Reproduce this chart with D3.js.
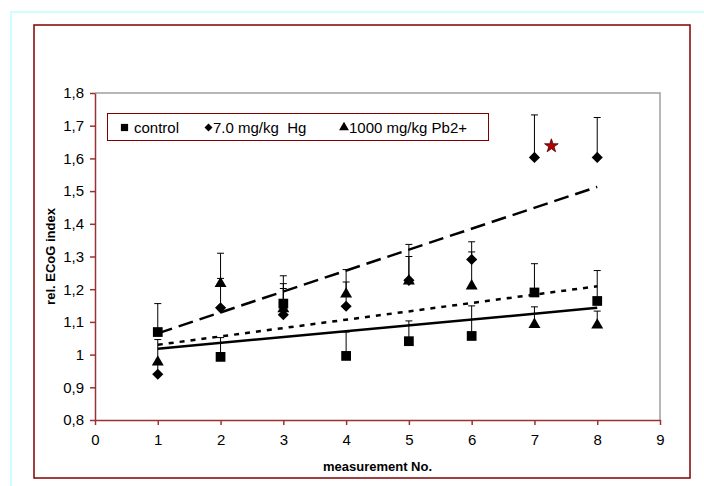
<!DOCTYPE html>
<html>
<head>
<meta charset="utf-8">
<script src="https://cdn.jsdelivr.net/npm/d3@7"></script>
<style>
html,body{margin:0;padding:0;background:#fff;}
svg{display:block;}
text{font-family:"Liberation Sans",Arial,sans-serif;}
</style>
</head>
<body>
<svg id="chart" width="704" height="486"></svg>
<script>
// ---- data ----
const measurements = [1, 2, 3, 4, 5, 6, 7, 8];
const controlMean   = [1.069, 0.993, 1.156, 0.996, 1.041, 1.057, 1.190, 1.164];
const controlErrTop = [1.156, 1.052, 1.217, 1.069, 1.103, 1.149, 1.278, 1.257];
const hgMean        = [0.940, 1.143, 1.122, 1.148, 1.227, 1.291, 1.603, 1.603];
const hgErrTop      = [0.975, 1.233, 1.202, 1.260, 1.337, 1.314, 1.733, 1.725];
const pbMean        = [0.977, 1.217, 1.140, 1.185, 1.225, 1.210, 1.092, 1.090];
const pbErrTop      = [1.046, 1.310, 1.241, 1.222, 1.300, 1.345, 1.146, 1.133];
// trend lines (value at first and last measurement)
const trendX       = [1, 8];
const trendControl = [1.018, 1.143];
const trendPb      = [1.030, 1.209];
const trendHg      = [1.065, 1.513];
// significance star
const starX = [7.27];
const starY = [1.638];
// axes
const xTicks = [0, 1, 2, 3, 4, 5, 6, 7, 8, 9];
const yTicks = [0.8, 0.9, 1.0, 1.1, 1.2, 1.3, 1.4, 1.5, 1.6, 1.7, 1.8];
const legendLabels = ["control", "7.0 mg/kg  Hg", "1000 mg/kg Pb2+"];
const xTitle = "measurement No.";
const yTitle = "rel. ECoG index";

// ---- layout ----
const svg = d3.select("#chart");
const plot = {left: 95, right: 660, top: 93, bottom: 420};
const axisColor = "#993333";

svg.append("rect").attr("x", 11).attr("y", 12).attr("width", 720).attr("height", 500)
  .attr("fill", "none").attr("stroke", "#ccffff").attr("stroke-width", 2);
svg.append("rect").attr("x", 34).attr("y", 25).attr("width", 656).attr("height", 453)
  .attr("fill", "#fff").attr("stroke", "#800000").attr("stroke-width", 1.5);

const x = d3.scaleLinear().domain([0, 9]).range([plot.left, plot.right]);
const y = d3.scaleLinear().domain([0.8, 1.8]).range([plot.bottom, plot.top]);

// plot-area frame (top/right gray)
svg.append("path")
  .attr("d", `M${plot.left},${plot.top}H${plot.right}V${plot.bottom}`)
  .attr("fill", "none").attr("stroke", "#a0a0a0").attr("stroke-width", 1.5);

const fmt = d => d3.format(".1f")(d).replace(".", ",").replace(/,0$/, "");
const yAxis = svg.append("g").attr("transform", `translate(${plot.left},0)`)
  .call(d3.axisLeft(y).tickValues(yTicks).tickSize(5).tickSizeOuter(0).tickPadding(6).tickFormat(fmt));
const xAxis = svg.append("g").attr("transform", `translate(0,${plot.bottom})`)
  .call(d3.axisBottom(x).tickValues(xTicks).tickSize(5).tickSizeOuter(0).tickPadding(9).tickFormat(d3.format("d")));
[xAxis, yAxis].forEach(g => {
  g.select(".domain").attr("stroke", axisColor).attr("stroke-width", 1.5);
  g.selectAll(".tick line").attr("stroke", axisColor).attr("stroke-width", 1.5);
  g.selectAll(".tick text").attr("fill", "#000").style("font-size", "15px")
    .style("font-family", '"Liberation Sans",Arial,sans-serif');
});

svg.append("text").attr("x", (plot.left + plot.right) / 2).attr("y", 471)
  .attr("text-anchor", "middle").style("font-size", "13px").style("font-weight", "bold").text(xTitle);
svg.append("text").attr("transform", `translate(55,${(plot.top + plot.bottom) / 2}) rotate(-90)`)
  .attr("text-anchor", "middle").style("font-size", "13px").style("font-weight", "bold").text(yTitle);

// ---- trend lines ----
const line = d3.line().x((d, i) => x(trendX[i])).y(d => y(d));
svg.append("path").datum(trendControl).attr("d", line).attr("fill", "none")
  .attr("stroke", "#000").attr("stroke-width", 2.5);
svg.append("path").datum(trendPb).attr("d", line).attr("fill", "none")
  .attr("stroke", "#000").attr("stroke-width", 2.5).attr("stroke-dasharray", "5,6");
svg.append("path").datum(trendHg).attr("d", line).attr("fill", "none")
  .attr("stroke", "#000").attr("stroke-width", 2.5).attr("stroke-dasharray", "15,7");

// ---- series ----
const series = [
  {mean: controlMean, top: controlErrTop, sym: d3.symbol().type(d3.symbolSquare).size(95), rot: 0},
  {mean: hgMean, top: hgErrTop, sym: d3.symbol().type(d3.symbolSquare).size(62), rot: 45},
  {mean: pbMean, top: pbErrTop, sym: d3.symbol().type(d3.symbolTriangle).size(62), rot: 0}
];
series.forEach(s => {
  const g = svg.append("g");
  measurements.forEach((m, i) => {
    const cx = x(m);
    g.append("line").attr("x1", cx).attr("x2", cx).attr("y1", y(s.mean[i])).attr("y2", y(s.top[i]))
      .attr("stroke", "#000").attr("stroke-width", 1);
    g.append("line").attr("x1", cx - 3.5).attr("x2", cx + 3.5).attr("y1", y(s.top[i])).attr("y2", y(s.top[i]))
      .attr("stroke", "#000").attr("stroke-width", 1);
  });
});
series.forEach(s => {
  svg.append("g").selectAll("path").data(measurements).join("path")
    .attr("d", s.sym())
    .attr("transform", (m, i) => `translate(${x(m)},${y(s.mean[i])}) rotate(${s.rot})`)
    .attr("fill", "#000");
});

// star
const star = d3.symbol().type(d3.symbolStar).size(58);
svg.append("g").selectAll("path").data(starX).join("path")
  .attr("d", star())
  .attr("transform", (d, i) => `translate(${x(d)},${y(starY[i])})`)
  .attr("fill", "#b00000").attr("stroke", "#500000").attr("stroke-width", 0.8);

// ---- legend ----
const leg = svg.append("g");
leg.append("rect").attr("x", 107.5).attr("y", 113.5).attr("width", 381).attr("height", 27)
  .attr("fill", "#fff").attr("stroke", "#800000").attr("stroke-width", 1);
const legSyms = [
  {sym: d3.symbol().type(d3.symbolSquare).size(52), rot: 0, mx: 124.5, tx: 134},
  {sym: d3.symbol().type(d3.symbolSquare).size(32), rot: 45, mx: 208.5, tx: 213},
  {sym: d3.symbol().type(d3.symbolTriangle).size(42), rot: 0, mx: 344, tx: 349}
];
legSyms.forEach((s, i) => {
  leg.append("path").attr("d", s.sym()).attr("transform", `translate(${s.mx},127.5) rotate(${s.rot})`).attr("fill", "#000");
  leg.append("text").attr("x", s.tx).attr("y", 132.5).style("font-size", "15px")
    .style("white-space", "pre").text(legendLabels[i]);
});
</script>
</body>
</html>
